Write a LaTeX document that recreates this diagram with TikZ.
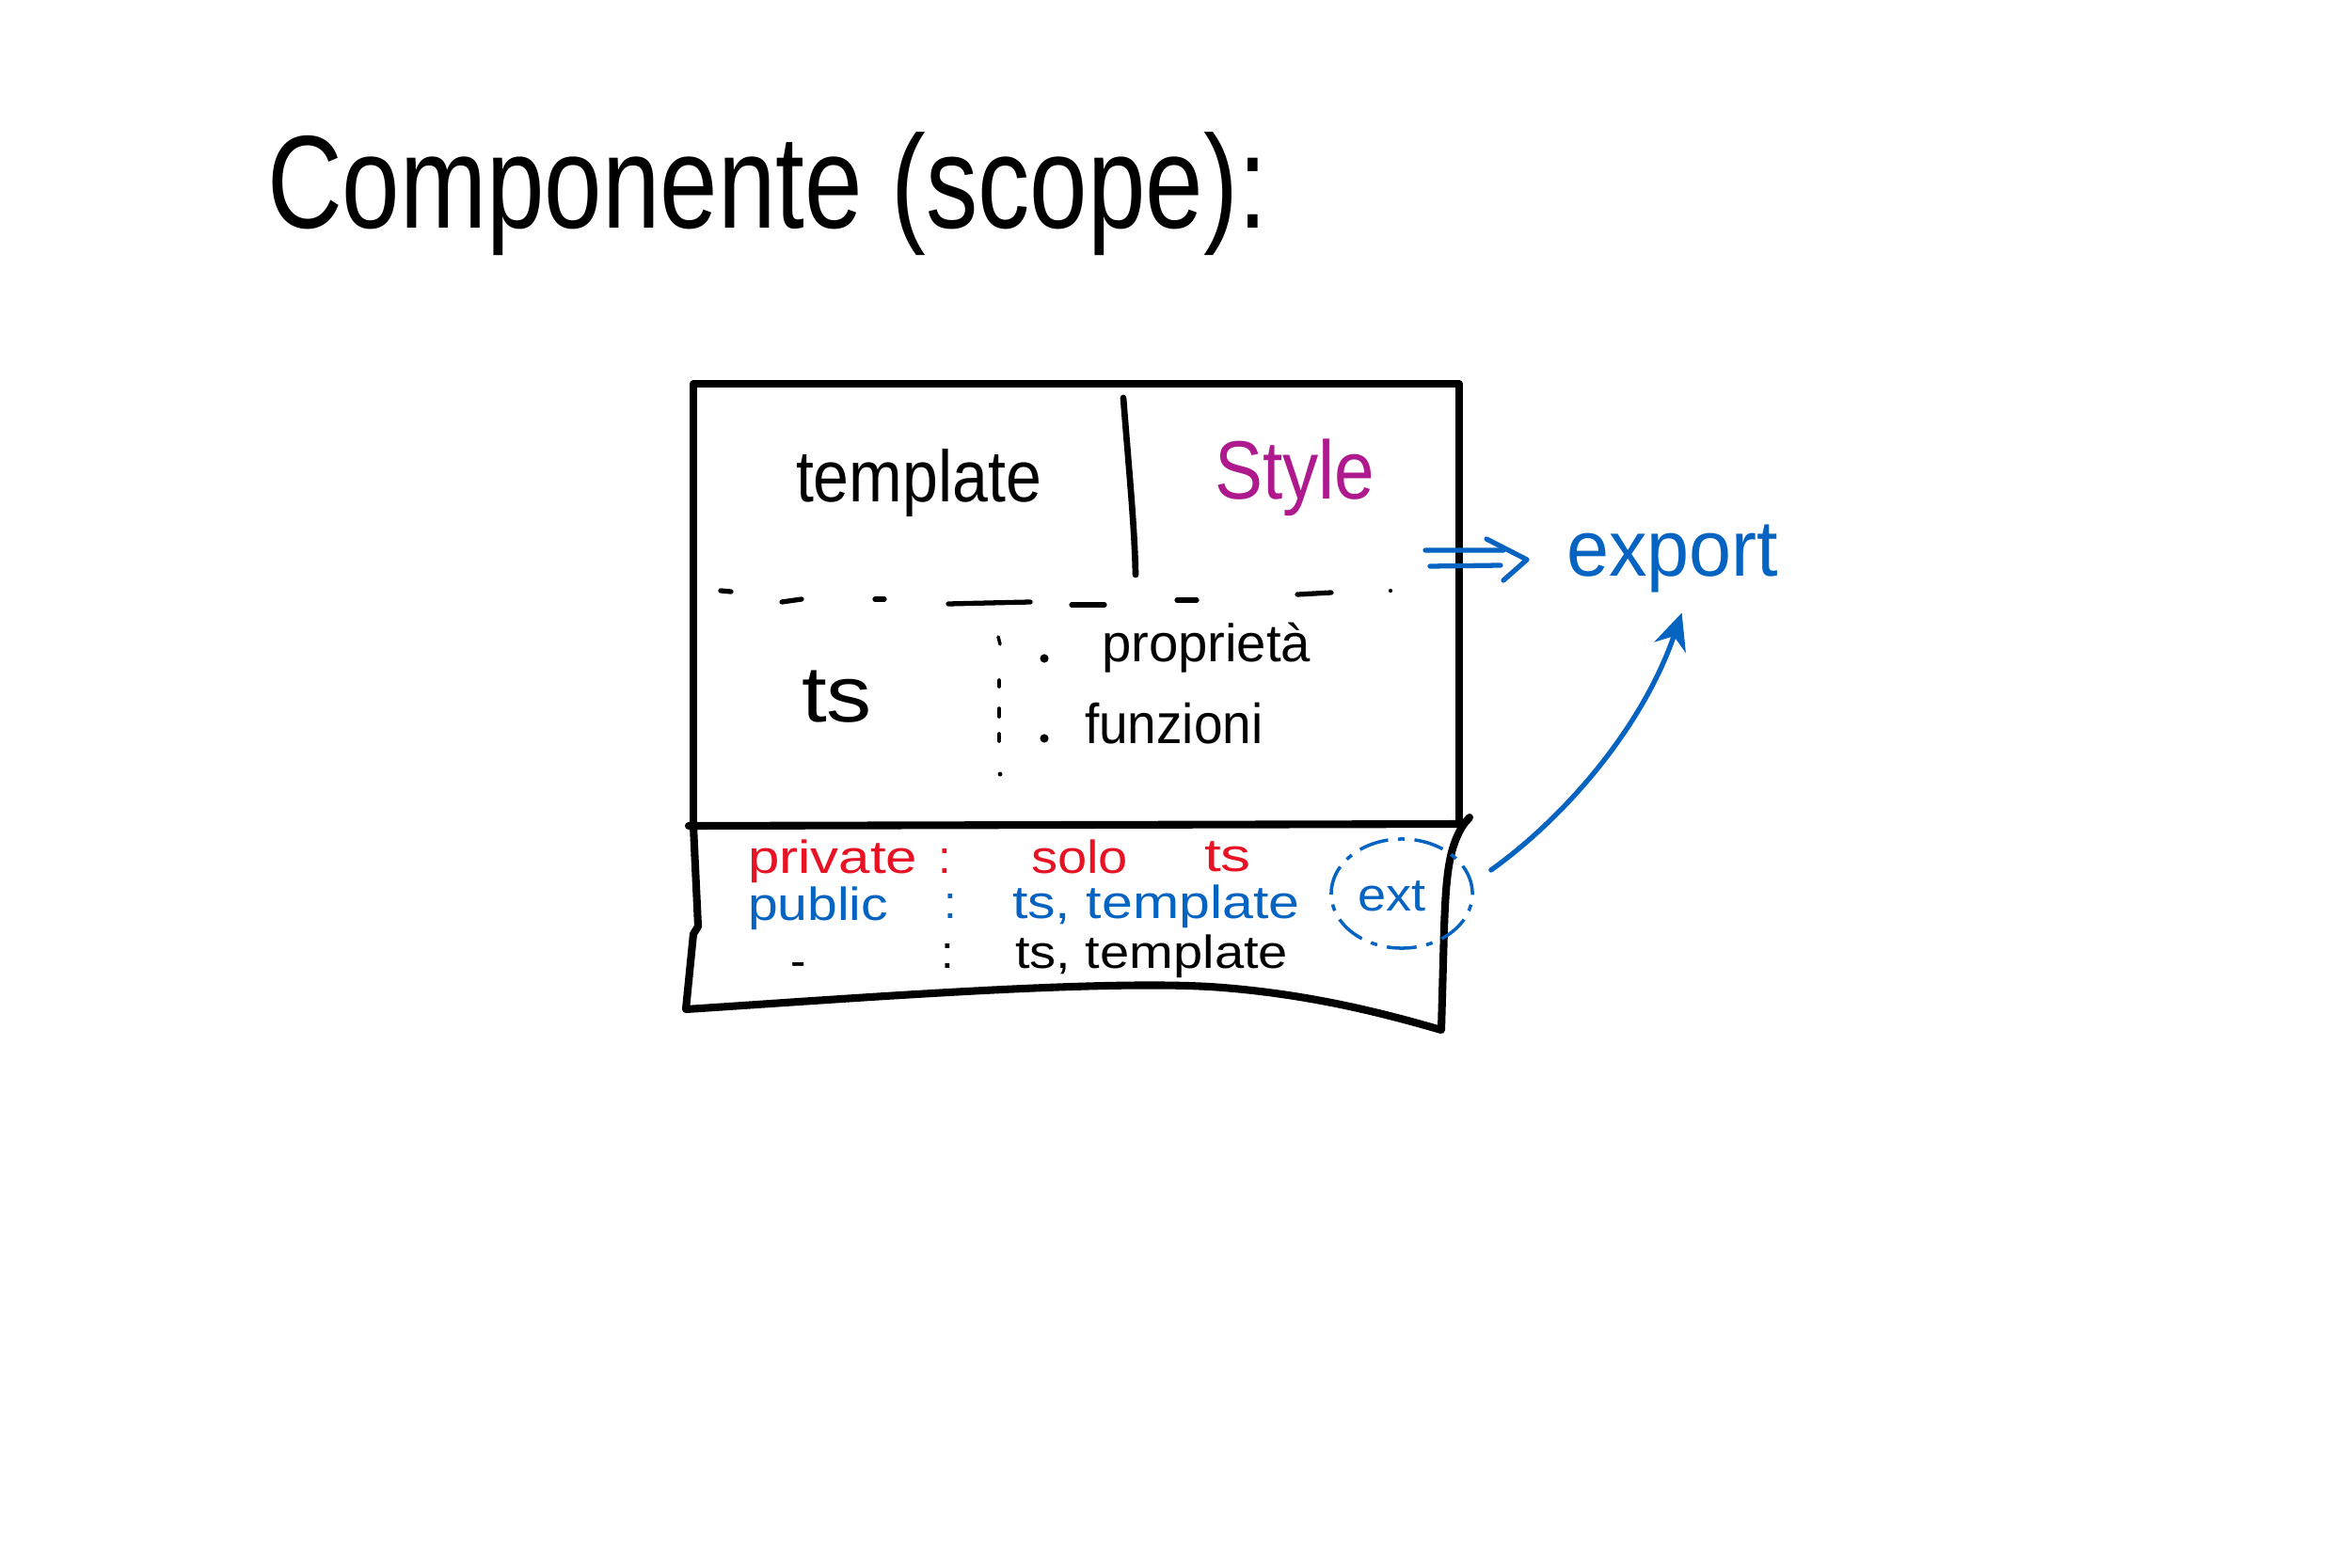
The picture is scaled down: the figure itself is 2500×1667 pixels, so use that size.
\documentclass[tikz,border=0pt]{standalone}
\usepackage{fontspec}
\setmainfont{Liberation Sans}
\usetikzlibrary{arrows.meta,shapes.geometric}
\definecolor{inkblue}{HTML}{0563C1}
\definecolor{inkred}{HTML}{E71224}
\definecolor{inkpurple}{HTML}{AE198D}
\newcommand{\myfs}[1]{\fontsize{#1}{#1}\selectfont}
\tikzset{
  txt/.style={anchor=base west, inner sep=0pt, outer sep=0pt},
  rowtxt/.style={txt, font=\myfs{14}},
  boxline/.style={line width=2.3pt, line cap=round, line join=round},
  dashmark/.style={line width=1.5pt, line cap=round},
  dotmark/.style={line width=1pt, line cap=round},
  blueink/.style={draw=inkblue, line width=1.5pt, line cap=round, line join=round},
  ringstyle/.style={draw=inkblue, line width=1pt, ellipse, inner sep=0pt,
    minimum width=1.5cm, minimum height=1.16cm,
    dash pattern=on 9pt off 3pt on 2pt off 3pt}
}
\begin{document}
\begin{tikzpicture}[x=0.01cm,y=-0.01cm]
\useasboundingbox[fill=white] (0,0) rectangle (2500,1667);

% title
\node[txt, font=\myfs{40}, xscale=0.786] (title) at (284,243) {Componente (scope):};

% box outline
\draw[boxline] (737,877) -- (737,408) -- (1551,408) -- (1551,875);
\draw[boxline] (732,878) -- (1556,876) -- (1562,869);
\draw[boxline] (737,878) -- (742,985) -- (737,993) -- (729,1073)
  .. controls (900,1062) and (1180,1040) .. (1300,1050)
  .. controls (1400,1058) and (1480,1080) .. (1532,1095)
  -- (1535,987) .. controls (1537,930) and (1540,900) .. (1556,876);

% divider template | style
\draw[line width=1.9pt, line cap=round] (1194,423) .. controls (1200,500) and (1206,560) .. (1207,611);

% dashed separator
\draw[dashmark] (766,628) -- (777,629);
\draw[dashmark] (831,640) -- (852,637);
\draw[dashmark] (930,637) -- (940,637);
\draw[dashmark] (1008,642) -- (1095,640);
\draw[dashmark] (1139,643) -- (1174,643);
\draw[dashmark] (1251,638) -- (1272,638);
\draw[dashmark] (1379,632) -- (1415,630);
\fill (1478,628) circle[radius=0.6pt];

% dotted vertical separator
\draw[dotmark] (1061,677) -- (1063,685);
\draw[dotmark] (1062,723) -- (1062,730);
\draw[dotmark] (1062,753) -- (1062,762);
\draw[dotmark] (1062,780) -- (1062,788);
\fill (1063,823) circle[radius=0.7pt];

% upper texts
\node[txt, font=\myfs{22}, xscale=0.88] (tmpl) at (846,533) {template};
\node[txt, font=\myfs{25}, xscale=0.87, text=inkpurple] (style) at (1291,530) {Style};
\node[txt, font=\myfs{24}, xscale=1.14] (ts) at (852,767) {ts};
\fill (1110,700) circle[radius=1.3pt];
\node[txt, font=\myfs{16}] (prop) at (1171,703) {proprietà};
\fill (1110,785) circle[radius=1.3pt];
\node[txt, font=\myfs{17}, xscale=0.92] (funz) at (1153,790) {funzioni};

% bottom section texts
\node[rowtxt, xscale=1.22, text=inkred] (priv) at (795,928) {private};
\node[rowtxt, text=inkred] (privc) at (997,928) {:};
\node[rowtxt, xscale=1.14, text=inkred] (solo) at (1096,928) {solo};
\node[rowtxt, xscale=1.3, text=inkred] (tsred) at (1280,926) {ts};

\node[rowtxt, xscale=1.16, text=inkblue] (pub) at (795,978) {public};
\node[rowtxt, text=inkblue] (pubc) at (1003,976) {:};
\node[rowtxt, xscale=1.2, text=inkblue] (pubts) at (1076,976) {ts, template};
\node[rowtxt, xscale=1.1, text=inkblue] (ext) at (1443,968) {ext};
\node[ringstyle] (ring) at (1490,950) {};

\node[rowtxt] (dash) at (840,1038) {-};
\node[rowtxt] (dfc) at (1000,1029) {:};
\node[rowtxt, xscale=1.14] (dfts) at (1079,1029) {ts, template};

% export
\node[txt, font=\myfs{24}, xscale=0.96, text=inkblue] (export) at (1665,612) {export};

% double arrow to export
\coordinate (dtip) at (1623,595);
\draw[blueink] (1515,585) -- (1598,585) (1520,602) -- (1595,601);
\draw[blueink] (1580,573) -- (dtip) -- (1598,617);

% curved arrow from ext to export
\draw[blueink, -{Stealth[length=11pt,width=10pt]}]
  ([shift={(0.18cm,0.25cm)}]ring.east) .. controls +(77,-55) and +(-42,123) ..
  ([shift={(0.1cm,-0.22cm)}]export.south);
\end{tikzpicture}
\end{document}
